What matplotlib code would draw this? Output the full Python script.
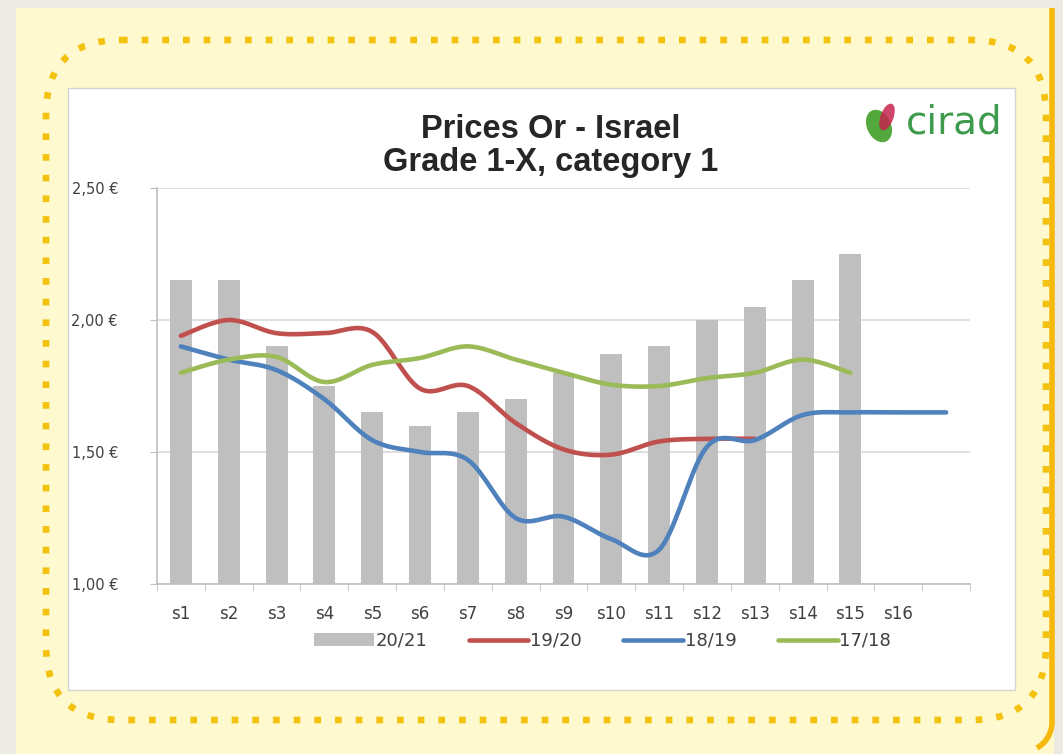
import numpy as np
import matplotlib
matplotlib.use("Agg")
import matplotlib.pyplot as plt
from matplotlib.patches import FancyBboxPatch, Rectangle, Ellipse, Arc
from matplotlib.ticker import FuncFormatter

# data
weeks = ["s1", "s2", "s3", "s4", "s5", "s6", "s7", "s8", "s9", "s10",
         "s11", "s12", "s13", "s14", "s15", "s16", ""]
prices_2021 = [2.15, 2.15, 1.90, 1.75, 1.65, 1.60, 1.65, 1.70, 1.80, 1.87,
               1.90, 2.00, 2.05, 2.15, 2.25]
prices_1920 = [1.94, 2.00, 1.95, 1.95, 1.955, 1.74, 1.75, 1.61, 1.51, 1.49,
               1.54, 1.55, 1.55]
prices_1819 = [1.90, 1.85, 1.81, 1.70, 1.545, 1.50, 1.47, 1.25, 1.255, 1.17,
               1.13, 1.52, 1.545, 1.64, 1.65, 1.65, 1.65]
prices_1718 = [1.80, 1.85, 1.86, 1.765, 1.83, 1.856, 1.90, 1.85, 1.80, 1.755,
               1.75, 1.78, 1.80, 1.85, 1.80]

W, H = 1063, 754
fig = plt.figure(figsize=(W / 100, H / 100), dpi=100)
fig.patch.set_facecolor("#edeae4")

# background decoration in pixel coordinates
bg = fig.add_axes([0, 0, 1, 1])
bg.set_xlim(0, W)
bg.set_ylim(H, 0)
bg.axis("off")
bg.add_patch(Rectangle((16, 8), 1038, 760, facecolor="#fff9d0", edgecolor="none"))
# orange edge on the right
bg.plot([1052, 1052], [8, 722], color="#f6b90c", linewidth=4, solid_capstyle="butt")
bg.add_patch(Arc((1022, 722), 60, 60, theta1=0, theta2=60, color="#f6b90c", linewidth=4))
bg.add_patch(FancyBboxPatch((46, 40), 1000, 680, boxstyle="round,pad=0,rounding_size=75",
                            facecolor="none", edgecolor="#f2c20f", linewidth=4.8,
                            linestyle=(0, (1, 2.1)), capstyle="butt"))
bg.add_patch(Rectangle((68, 88), 947, 602, facecolor="white", edgecolor="#d4d4d4", linewidth=1))

# cirad logo
bg.add_patch(Ellipse((879, 126), 24, 34, angle=-25, facecolor="#52a83a", edgecolor="none"))
bg.add_patch(Ellipse((887, 117), 13, 28, angle=20, facecolor="#c7234f", edgecolor="none", alpha=0.85))
bg.text(954, 123, "cirad", color="#3e9a4c", fontsize=28, ha="center", va="center",
        family="DejaVu Sans")

bg.text(551, 146, "Prices Or - Israel\nGrade 1-X, category 1", ha="center", va="center",
        fontsize=23.5, fontweight="bold", color="#262626", family="Liberation Sans",
        linespacing=1.05)


def smooth(y):
    # excel-style smoothed line through the points (bezier segments)
    y = np.asarray(y, dtype=float)
    x = np.arange(len(y), dtype=float)
    pts = np.column_stack([x, y])
    t = np.linspace(0, 1, 20)[:, None]
    out = []
    for i in range(len(pts) - 1):
        p0 = pts[i]
        p3 = pts[i + 1]
        prev = pts[i - 1] if i > 0 else pts[i]
        nxt = pts[i + 2] if i + 2 < len(pts) else pts[i + 1]
        p1 = p0 + (p3 - prev) / 6
        p2 = p3 - (nxt - p0) / 6
        seg = ((1 - t) ** 3) * p0 + 3 * ((1 - t) ** 2) * t * p1 + 3 * (1 - t) * t ** 2 * p2 + t ** 3 * p3
        out.append(seg)
    out = np.vstack(out)
    return out[:, 0], out[:, 1]


ax = fig.add_axes([157 / W, 1 - 584 / H, 813 / W, 396 / H])
ax.set_facecolor("none")
x = np.arange(len(weeks))
bars = ax.bar(np.arange(len(prices_2021)), np.array(prices_2021) - 1.0, bottom=1.0, width=0.46,
              color="#bfbfbf", label="20/21", zorder=2)
handles = [bars]
for vals, col, lab in [(prices_1920, "#c0504d", "19/20"),
                       (prices_1819, "#4f81bd", "18/19"),
                       (prices_1718, "#9bbb59", "17/18")]:
    sx, sy = smooth(vals)
    ln, = ax.plot(sx, sy, color=col, linewidth=3.3, label=lab, zorder=3, solid_capstyle="round")
    handles.append(ln)

ax.set_xlim(-0.5, len(weeks) - 0.5)
ax.set_ylim(1.0, 2.5)
ax.set_yticks([1.0, 1.5, 2.0, 2.5])
ax.yaxis.set_major_formatter(FuncFormatter(lambda v, p: f"{v:.2f}".replace(".", ",") + " \u20ac"))
ax.set_xticks(x)
ax.set_xticklabels(weeks)
ax.set_xticks(np.arange(len(weeks) + 1) - 0.5, minor=True)
ax.tick_params(axis="x", which="major", length=0, pad=15, labelsize=12, labelcolor="#404040")
ax.tick_params(axis="x", which="minor", length=5, color="#bfbfbf", direction="out")
ax.tick_params(axis="y", length=5, color="#bfbfbf", pad=23, labelsize=10.5, labelcolor="#404040")
ax.grid(axis="y", color="#d9d9d9", linewidth=1.2, zorder=0)
for s in ["top", "right"]:
    ax.spines[s].set_visible(False)
for s in ["left", "bottom"]:
    ax.spines[s].set_color("#bfbfbf")
    ax.spines[s].set_linewidth(1.2)

ax.legend(handles=handles, loc="upper center", bbox_to_anchor=(0.548, -0.08), ncol=4,
          frameon=False, fontsize=13, handlelength=3.3, handletextpad=0.1,
          columnspacing=2.3, labelcolor="#404040")

fig.savefig("out.png", dpi=100, facecolor=fig.get_facecolor())
